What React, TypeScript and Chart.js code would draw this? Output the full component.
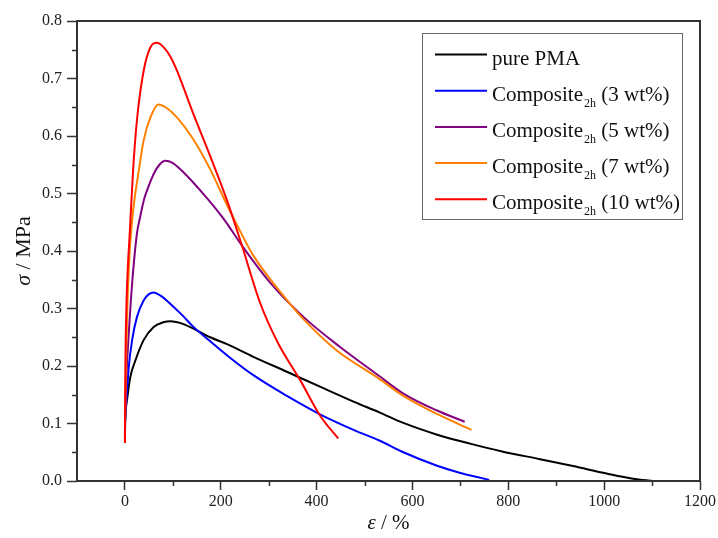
import React, { useEffect, useRef } from 'react';
import { Chart, registerables } from 'chart.js';

Chart.register(...registerables);

// ---- axis ticks ----
const xTicks = [0, 200, 400, 600, 800, 1000, 1200];
const xMinorTicks = [100, 300, 500, 700, 900, 1100];
const yTicks = [0, 0.1, 0.2, 0.3, 0.4, 0.5, 0.6, 0.7, 0.8];
const yMinorTicks = [0.05, 0.15, 0.25, 0.35, 0.45, 0.55, 0.65, 0.75];

// ---- series (strain %, stress MPa) ----
const pmaStrain = [0, 2, 5, 11, 22, 39, 60, 80, 95, 115, 143, 178, 213, 268, 338, 407, 477, 532, 581, 650, 720, 789, 866, 935, 1005, 1060, 1102];
const pmaStress = [0.1, 0.125, 0.145, 0.18, 0.21, 0.245, 0.268, 0.276, 0.278, 0.275, 0.265, 0.25, 0.238, 0.216, 0.19, 0.164, 0.138, 0.119, 0.101, 0.081, 0.065, 0.051, 0.038, 0.026, 0.013, 0.004, 0.0];

const c3Strain = [0, 1, 3, 8, 15, 25, 39, 50, 60, 75, 95, 120, 143, 178, 220, 268, 338, 407, 477, 532, 581, 650, 700, 735, 760];
const c3Stress = [0.086, 0.12, 0.14, 0.198, 0.245, 0.285, 0.314, 0.325, 0.328, 0.322, 0.308, 0.288, 0.268, 0.243, 0.214, 0.184, 0.148, 0.116, 0.089, 0.07, 0.05, 0.027, 0.014, 0.007, 0.002];

const c5Strain = [0, 1, 3, 8, 15, 25, 32, 40, 46, 60, 72, 84, 100, 122, 164, 206, 248, 303, 373, 449, 525, 581, 650, 709];
const c5Stress = [0.08, 0.13, 0.18, 0.256, 0.343, 0.43, 0.46, 0.49, 0.505, 0.534, 0.55, 0.557, 0.553, 0.537, 0.499, 0.456, 0.405, 0.345, 0.285, 0.233, 0.186, 0.152, 0.123, 0.103];

const c7Strain = [0, 1, 2, 5, 10, 15, 20, 29, 39, 53, 70, 85, 109, 143, 178, 213, 234, 268, 331, 373, 442, 525, 581, 650, 723];
const c7Stress = [0.066, 0.15, 0.2, 0.3, 0.4, 0.453, 0.49, 0.54, 0.592, 0.632, 0.655, 0.65, 0.632, 0.594, 0.542, 0.48, 0.445, 0.392, 0.322, 0.281, 0.227, 0.181, 0.148, 0.117, 0.089];

const c10Strain = [0, 1, 3, 6, 10, 17, 25, 39, 53, 67, 80, 95, 109, 143, 178, 213, 244, 282, 320, 366, 407, 445];
const c10Stress = [0.066, 0.2, 0.3, 0.37, 0.43, 0.54, 0.627, 0.713, 0.754, 0.762, 0.755, 0.738, 0.713, 0.638, 0.565, 0.488, 0.41, 0.31, 0.239, 0.175, 0.114, 0.074];

const seriesLabels = ['pure PMA', 'Composite₂ₕ (3 wt%)', 'Composite₂ₕ (5 wt%)', 'Composite₂ₕ (7 wt%)', 'Composite₂ₕ (10 wt%)'];
const legendMain = ['pure PMA', 'Composite', 'Composite', 'Composite', 'Composite'];
const legendSub = ['', '2h', '2h', '2h', '2h'];
const legendRest = ['', ' (3 wt%)', ' (5 wt%)', ' (7 wt%)', ' (10 wt%)'];
const seriesColors = ['#000000', '#0000ff', '#800080', '#ff8000', '#ff0000'];
const strains = [pmaStrain, c3Strain, c5Strain, c7Strain, c10Strain];
const stresses = [pmaStress, c3Stress, c5Stress, c7Stress, c10Stress];

const xTitleSym = 'ε';
const xTitleRest = ' / %';
const yTitleSym = 'σ';
const yTitleRest = ' / MPa';

const SERIF = "'Liberation Serif', 'Times New Roman', serif";
const AXIS = '#333333';

const decorPlugin = {
  id: 'decor',
  afterDraw(chart: any) {
    const { ctx, chartArea: ca, scales } = chart;
    const xs = scales.x;
    const ys = scales.y;
    ctx.save();

    // minor ticks
    ctx.strokeStyle = AXIS;
    ctx.lineWidth = 1.5;
    ctx.beginPath();
    for (const v of yMinorTicks) {
      const py = Math.round(ys.getPixelForValue(v)) + 0.5;
      ctx.moveTo(ca.left - 5, py);
      ctx.lineTo(ca.left, py);
    }
    for (const v of xMinorTicks) {
      const px = Math.round(xs.getPixelForValue(v)) + 0.5;
      ctx.moveTo(px, ca.bottom);
      ctx.lineTo(px, ca.bottom + 5);
    }
    ctx.stroke();

    // frame
    ctx.lineWidth = 2;
    ctx.strokeStyle = AXIS;
    ctx.strokeRect(ca.left, ca.top, ca.right - ca.left, ca.bottom - ca.top);

    // legend
    const bx = ca.right - 278;
    const by = ca.top + 12;
    const bw = 260;
    const bh = 186;
    ctx.fillStyle = '#ffffff';
    ctx.fillRect(bx, by, bw, bh);
    ctx.lineWidth = 1;
    ctx.strokeStyle = '#666666';
    ctx.strokeRect(bx + 0.5, by + 0.5, bw, bh);
    for (let i = 0; i < seriesLabels.length; i++) {
      const ly = by + 21.5 + i * 36.2;
      ctx.strokeStyle = seriesColors[i];
      ctx.lineWidth = 2;
      ctx.beginPath();
      ctx.moveTo(bx + 13, ly);
      ctx.lineTo(bx + 65, ly);
      ctx.stroke();
      ctx.fillStyle = '#111111';
      ctx.textBaseline = 'alphabetic';
      ctx.textAlign = 'left';
      let tx = bx + 70;
      const base = ly + 10;
      ctx.font = `21px ${SERIF}`;
      ctx.fillText(legendMain[i], tx, base);
      tx += ctx.measureText(legendMain[i]).width;
      if (legendSub[i]) {
        ctx.font = `12px ${SERIF}`;
        ctx.fillText(legendSub[i], tx + 1, base + 6);
        tx += ctx.measureText(legendSub[i]).width + 1;
      }
      if (legendRest[i]) {
        ctx.font = `21px ${SERIF}`;
        ctx.fillText(legendRest[i], tx, base);
      }
    }

    // x title
    ctx.fillStyle = '#111111';
    ctx.textBaseline = 'alphabetic';
    ctx.textAlign = 'left';
    ctx.font = `italic 21px ${SERIF}`;
    const xw1 = ctx.measureText(xTitleSym).width;
    ctx.font = `21px ${SERIF}`;
    const xw2 = ctx.measureText(xTitleRest).width;
    const xcx = (ca.left + ca.right) / 2;
    const xx = xcx - (xw1 + xw2) / 2;
    ctx.font = `italic 21px ${SERIF}`;
    ctx.fillText(xTitleSym, xx, 529);
    ctx.font = `21px ${SERIF}`;
    ctx.fillText(xTitleRest, xx + xw1, 529);

    // y title
    ctx.save();
    ctx.translate(30, (ca.top + ca.bottom) / 2);
    ctx.rotate(-Math.PI / 2);
    ctx.font = `italic 22px ${SERIF}`;
    const yw1 = ctx.measureText(yTitleSym).width;
    ctx.font = `22px ${SERIF}`;
    const yw2 = ctx.measureText(yTitleRest).width;
    const yx = -(yw1 + yw2) / 2;
    ctx.font = `italic 22px ${SERIF}`;
    ctx.fillText(yTitleSym, yx, 0);
    ctx.font = `22px ${SERIF}`;
    ctx.fillText(yTitleRest, yx + yw1, 0);
    ctx.restore();

    ctx.restore();
  },
};

export default function App() {
  const canvasRef = useRef<HTMLCanvasElement | null>(null);

  useEffect(() => {
    if (!canvasRef.current) return;
    const datasets = strains.map((xsArr, i) => ({
      label: seriesLabels[i],
      data: xsArr.map((x, j) => ({ x, y: stresses[i][j] })),
      borderColor: seriesColors[i],
      backgroundColor: seriesColors[i],
      borderWidth: 2,
      pointRadius: 0,
      showLine: true,
      fill: false,
      cubicInterpolationMode: 'monotone' as const,
      order: seriesLabels.length - 1 - i,
    }));

    const chart = new Chart(canvasRef.current, {
      type: 'scatter',
      data: { datasets },
      options: {
        animation: false,
        responsive: false,
        devicePixelRatio: 1,
        layout: { padding: { top: 21, right: 18, left: 0, bottom: 0 } },
        plugins: {
          legend: { display: false },
          tooltip: { enabled: false },
          title: { display: false },
        },
        scales: {
          x: {
            type: 'linear',
            min: -100,
            max: 1200,
            afterBuildTicks: (scale: any) => {
              scale.ticks = xTicks.map((v) => ({ value: v }));
            },
            afterFit: (scale: any) => {
              scale.height = 57;
            },
            border: { display: false },
            grid: {
              drawOnChartArea: false,
              drawTicks: true,
              tickLength: 9,
              tickWidth: 1.5,
              tickColor: AXIS,
              color: AXIS,
            },
            ticks: {
              padding: 2,
              color: '#222222',
              font: { family: SERIF, size: 16 },
              maxRotation: 0,
              callback: (v: any) => String(v),
            },
          },
          y: {
            type: 'linear',
            min: 0,
            max: 0.8,
            afterBuildTicks: (scale: any) => {
              scale.ticks = yTicks.map((v) => ({ value: v }));
            },
            afterFit: (scale: any) => {
              scale.width = 77;
            },
            border: { display: false },
            grid: {
              drawOnChartArea: false,
              drawTicks: true,
              tickLength: 10,
              tickWidth: 1.5,
              tickColor: AXIS,
              color: AXIS,
            },
            ticks: {
              padding: 5,
              color: '#222222',
              font: { family: SERIF, size: 16 },
              callback: (v: any) => Number(v).toFixed(1),
            },
          },
        },
      },
      plugins: [decorPlugin],
    });
    return () => chart.destroy();
  }, []);

  return (
    <div style={{ position: 'fixed', left: 0, top: 0, width: 718, height: 538, background: '#ffffff' }}>
      <canvas ref={canvasRef} width={718} height={538} style={{ display: 'block' }} />
    </div>
  );
}
